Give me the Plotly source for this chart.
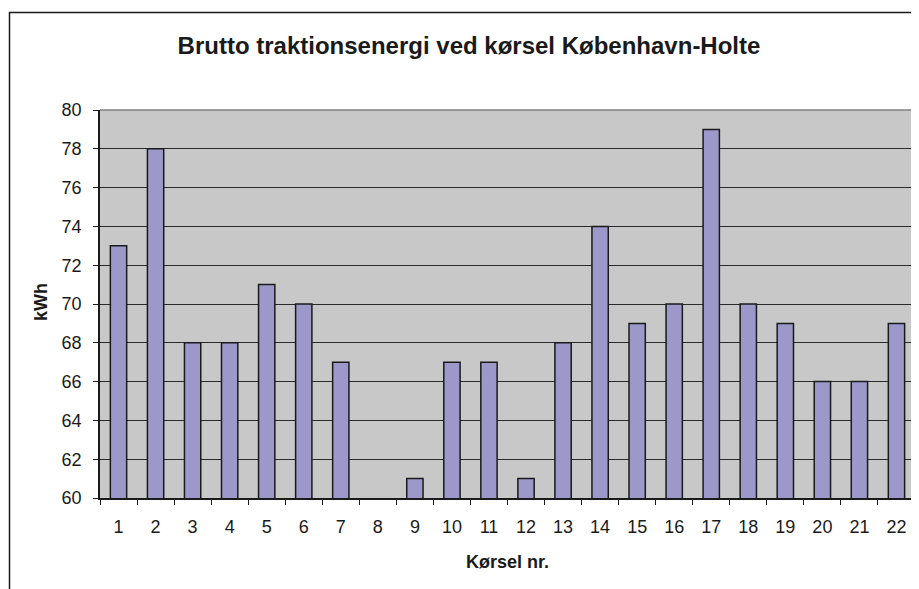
import plotly.graph_objects as go

categories = [str(i) for i in range(1, 23)]
kwh = [73, 78, 68, 68, 71, 70, 67, None, 61, 67, 67, 61, 68, 74, 69, 70, 79, 70, 69, 66, 66, 69]
y_ticks = list(range(60, 81, 2))

title_text = "Brutto traktionsenergi ved kørsel København-Holte"
x_title = "Kørsel nr."
y_title = "kWh"

FONT = "Liberation Sans, Arial, sans-serif"

fig = go.Figure()
fig.add_trace(go.Bar(
    x=categories, y=kwh,
    marker=dict(color="#9C98CA", line=dict(color="#1a1a1a", width=1.5)),
    hoverinfo="x+y",
))

# page has an 8px body margin; figure is offset by (8, 8)
OFF = 8
W, H = 911, 581
PL, PR, PT, PB = 100, 915, 110, 498   # plot area in page pixels
L, R, T, B = PL - OFF, W - (PR - OFF), PT - OFF, H - (PB - OFF)

def px_x(p):
    return (p - PL) / (PR - PL)

def px_y(p):
    return (PB - p) / (PB - PT)

fig.update_layout(
    width=W, height=H,
    margin=dict(l=L, r=R, t=T, b=B, pad=0),
    paper_bgcolor="white",
    plot_bgcolor="#C8C8C8",
    bargap=0.56,
    showlegend=False,
    font=dict(family=FONT, color="#1a1a1a", size=18),
    title=dict(text="<b>" + title_text + "</b>",
               x=(469 - OFF) / W, xref="container",
               y=1 - (46 - OFF) / H, yref="container",
               yanchor="middle", xanchor="center",
               font=dict(size=24, family=FONT, color="#1a1a1a")),
    xaxis=dict(
        type="category", tickson="boundaries", ticks="outside", ticklen=5,
        tickcolor="#1a1a1a", showline=True, linecolor="#1a1a1a", linewidth=1.5,
        showgrid=False, ticklabelstandoff=12, tickfont=dict(size=18),
    ),
    yaxis=dict(
        range=[60, 80], tickvals=y_ticks, ticks="outside", ticklen=5,
        tickcolor="#1a1a1a", showline=True, linecolor="#1a1a1a", linewidth=1.5,
        showgrid=True, gridcolor="#2a2a2a", gridwidth=1, zeroline=False,
        ticklabelstandoff=8, tickfont=dict(size=18),
    ),
    annotations=[
        dict(text="<b>" + y_title + "</b>", xref="paper", yref="paper",
             x=px_x(41), y=px_y(302), showarrow=False, textangle=-90,
             font=dict(size=18, family=FONT, color="#1a1a1a"),
             xanchor="center", yanchor="middle"),
        dict(text="<b>" + x_title + "</b>", xref="paper", yref="paper",
             x=px_x(507), y=px_y(562), showarrow=False,
             font=dict(size=18, family=FONT, color="#1a1a1a"),
             xanchor="center", yanchor="middle"),
    ],
    shapes=[
        dict(type="line", xref="paper", yref="paper", x0=0, x1=1, y0=1, y1=1,
             line=dict(color="#808080", width=1.5), layer="above"),
        dict(type="line", xref="paper", yref="paper", x0=1, x1=1, y0=0, y1=1,
             line=dict(color="#808080", width=1.5), layer="above"),
        dict(type="rect", xref="paper", yref="paper",
             x0=px_x(9.5), x1=px_x(940), y0=px_y(620), y1=px_y(12.5),
             line=dict(color="#1a1a1a", width=1.5), fillcolor="rgba(0,0,0,0)",
             layer="above"),
    ],
)

fig.write_html("out.html")
